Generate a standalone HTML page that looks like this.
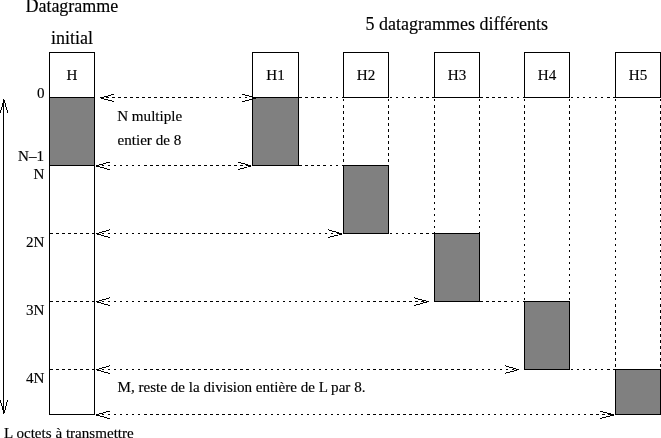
<!DOCTYPE html><html><head><meta charset="utf-8"><title>Fragmentation</title><style>html,body{margin:0;padding:0;background:#fff}svg{display:block}text{font-family:"Liberation Serif",serif;fill:#000;stroke:#000;stroke-width:.15px}.s{font-size:15.1px}.b{font-size:18px}line,polyline,rect,path{shape-rendering:crispEdges}path{stroke:#000;fill:none}</style></head><body>
<svg width="661" height="438" viewBox="0 0 661 438">
<rect width="661" height="438" fill="#fff"/>
<path d="M111 94.5H114M108 95.5H111M104 96.5H108M100 97.5H104M101 98.5H104M104 99.5H108M108 100.5H112M112 101.5H114M242 94.5H245M245 95.5H249M249 96.5H252M249 99.5H252M245 100.5H249M242 101.5H245"/>
<path d="M106 97.5H109M112 97.5H115M118 97.5H121M124 97.5H127M130 97.5H133M136 97.5H139M142 97.5H145M148 97.5H151M154 97.5H157M160 97.5H163M166 97.5H169M172 97.5H175M178 97.5H181M184 97.5H187M190 97.5H193M196 97.5H199M203 97.5H205M209 97.5H211M215 97.5H217M221 97.5H223M227 97.5H229M233 97.5H235M239 97.5H241M245 97.5H247"/>
<path d="M106 162.5H110M103 163.5H106M99 164.5H103M96 165.5H99M96 166.5H100M100 167.5H104M104 168.5H107M107 169.5H110M238 162.5H241M241 163.5H245M245 164.5H248M247 165.5H251M248 166.5H251M244 167.5H247M240 168.5H244M238 169.5H240"/>
<path d="M102 165.5H104M108 165.5H110M114 165.5H116M120 165.5H122M126 165.5H128M132 165.5H134M138 165.5H140M144 165.5H147M150 165.5H153M156 165.5H159M162 165.5H165M168 165.5H171M174 165.5H177M180 165.5H183M186 165.5H189M192 165.5H195M198 165.5H201M204 165.5H207M210 165.5H213M216 165.5H219M222 165.5H225M228 165.5H231M234 165.5H237M240 165.5H243M246 165.5H247"/>
<path d="M109 229.5H110M106 230.5H109M102 231.5H106M99 232.5H102M96 233.5H99M97 234.5H101M101 235.5H104M104 236.5H108M108 237.5H110M328 229.5H329M329 230.5H332M332 231.5H336M336 232.5H339M338 233.5H342M339 234.5H342M334 235.5H338M330 236.5H334M328 237.5H330"/>
<path d="M102 233.5H104M108 233.5H110M114 233.5H116M120 233.5H122M126 233.5H128M132 233.5H134M138 233.5H140M144 233.5H147M150 233.5H153M156 233.5H159M162 233.5H165M168 233.5H171M174 233.5H177M180 233.5H183M186 233.5H189M192 233.5H195M198 233.5H201M204 233.5H207M210 233.5H213M216 233.5H219M222 233.5H225M228 233.5H231M234 233.5H237M240 233.5H243M246 233.5H249M253 233.5H255M259 233.5H261M265 233.5H267M271 233.5H273M277 233.5H279M283 233.5H285M289 233.5H291M295 233.5H297M301 233.5H303M307 233.5H309M313 233.5H315M319 233.5H321M325 233.5H327M331 233.5H333M337 233.5H338"/>
<path d="M109 297.5H110M106 298.5H109M102 299.5H106M99 300.5H102M96 301.5H99M97 302.5H101M101 303.5H104M104 304.5H108M108 305.5H110M414 297.5H415M415 298.5H418M418 299.5H422M422 300.5H426M426 301.5H429M423 302.5H427M420 303.5H423M416 304.5H420M414 305.5H416"/>
<path d="M102 301.5H104M108 301.5H110M114 301.5H116M120 301.5H122M126 301.5H128M132 301.5H134M138 301.5H140M144 301.5H147M150 301.5H153M156 301.5H159M162 301.5H165M168 301.5H171M174 301.5H177M180 301.5H183M186 301.5H189M192 301.5H195M198 301.5H201M204 301.5H207M210 301.5H213M216 301.5H219M222 301.5H225M228 301.5H231M234 301.5H237M240 301.5H243M246 301.5H249M253 301.5H255M259 301.5H261M265 301.5H267M271 301.5H273M277 301.5H279M283 301.5H285M289 301.5H291M295 301.5H297M301 301.5H303M307 301.5H309M313 301.5H315M319 301.5H321M325 301.5H327M331 301.5H333M337 301.5H339M343 301.5H345M349 301.5H351M355 301.5H357M361 301.5H363M367 301.5H370M373 301.5H376M379 301.5H382M385 301.5H388M391 301.5H394M397 301.5H400M403 301.5H406M409 301.5H412M415 301.5H418M421 301.5H424"/>
<path d="M109 365.5H110M106 366.5H109M102 367.5H106M99 368.5H102M96 369.5H99M97 370.5H101M101 371.5H104M104 372.5H108M108 373.5H110M505 365.5H506M506 366.5H509M509 367.5H513M513 368.5H516M516 369.5H519M514 370.5H517M510 371.5H514M506 372.5H510M505 373.5H506"/>
<path d="M102 369.5H104M108 369.5H110M114 369.5H116M120 369.5H122M126 369.5H128M132 369.5H134M138 369.5H140M144 369.5H147M150 369.5H153M156 369.5H159M162 369.5H165M168 369.5H171M174 369.5H177M180 369.5H183M186 369.5H189M192 369.5H195M198 369.5H201M204 369.5H207M210 369.5H213M216 369.5H219M222 369.5H225M228 369.5H231M234 369.5H237M240 369.5H243M246 369.5H249M253 369.5H255M259 369.5H261M265 369.5H267M271 369.5H273M277 369.5H279M283 369.5H285M289 369.5H291M295 369.5H297M301 369.5H303M307 369.5H309M313 369.5H315M319 369.5H321M325 369.5H327M331 369.5H333M337 369.5H339M343 369.5H345M349 369.5H351M355 369.5H357M361 369.5H363M367 369.5H370M373 369.5H376M379 369.5H382M385 369.5H388M391 369.5H394M397 369.5H400M403 369.5H406M409 369.5H412M415 369.5H418M421 369.5H424M427 369.5H430M433 369.5H436M439 369.5H442M445 369.5H448M451 369.5H454M457 369.5H460M463 369.5H466M469 369.5H472M476 369.5H478M482 369.5H484M488 369.5H490M494 369.5H496M500 369.5H502M506 369.5H508M512 369.5H514"/>
<path d="M106 411.5H110M103 412.5H106M99 413.5H103M96 414.5H99M96 415.5H100M100 416.5H104M104 417.5H107M107 418.5H110M600 411.5H603M603 412.5H607M607 413.5H611M609 414.5H614M610 415.5H614M606 416.5H610M602 417.5H606M600 418.5H602"/>
<path d="M102 414.5H104M108 414.5H110M114 414.5H116M120 414.5H122M126 414.5H128M132 414.5H134M138 414.5H140M144 414.5H147M150 414.5H153M156 414.5H159M162 414.5H165M168 414.5H171M174 414.5H177M180 414.5H183M186 414.5H189M192 414.5H195M198 414.5H201M204 414.5H207M210 414.5H213M216 414.5H219M222 414.5H225M228 414.5H231M234 414.5H237M240 414.5H243M246 414.5H249M253 414.5H255M259 414.5H261M265 414.5H267M271 414.5H273M277 414.5H279M283 414.5H285M289 414.5H291M295 414.5H297M301 414.5H303M307 414.5H309M313 414.5H315M319 414.5H321M325 414.5H327M331 414.5H333M337 414.5H339M343 414.5H345M349 414.5H351M355 414.5H357M361 414.5H363M367 414.5H370M373 414.5H376M379 414.5H382M385 414.5H388M391 414.5H394M397 414.5H400M403 414.5H406M409 414.5H412M415 414.5H418M421 414.5H424M427 414.5H430M433 414.5H436M439 414.5H442M445 414.5H448M451 414.5H454M457 414.5H460M463 414.5H466M469 414.5H472M476 414.5H478M482 414.5H484M488 414.5H490M494 414.5H496M500 414.5H502M506 414.5H508M512 414.5H514M518 414.5H520M524 414.5H526M530 414.5H532M536 414.5H538M542 414.5H544M548 414.5H550M554 414.5H556M560 414.5H562M566 414.5H568M572 414.5H574M578 414.5H580M584 414.5H586M590 414.5H593M596 414.5H599M602 414.5H605M608 414.5H610"/>
<rect x="49.5" y="97.5" width="45" height="68" fill="#808080" stroke="none"/>
<rect x="49.5" y="52.5" width="45" height="362" fill="none" stroke="#000"/>
<line x1="49" y1="97.5" x2="94" y2="97.5" stroke="#000"/>
<line x1="49" y1="165.5" x2="94" y2="165.5" stroke="#000"/>
<path d="M50 233.5H53M56 233.5H59M62 233.5H65M68 233.5H71M74 233.5H77M80 233.5H83M86 233.5H89M92 233.5H94"/>
<path d="M50 301.5H53M56 301.5H59M62 301.5H65M68 301.5H71M74 301.5H77M80 301.5H83M86 301.5H89M92 301.5H94"/>
<path d="M50 369.5H53M56 369.5H59M62 369.5H65M68 369.5H71M74 369.5H77M80 369.5H83M86 369.5H89M92 369.5H94"/>
<rect x="252.5" y="52.5" width="46" height="45" fill="#fff" stroke="#000"/>
<rect x="252.5" y="97.5" width="46" height="68" fill="#808080" stroke="#000"/>
<rect x="343.5" y="52.5" width="45" height="45" fill="#fff" stroke="#000"/>
<rect x="343.5" y="165.5" width="45" height="68" fill="#808080" stroke="#000"/>
<path d="M343.5 99V101M343.5 105V108M343.5 111V114M343.5 117V120M343.5 123V126M343.5 129V132M343.5 135V138M343.5 141V144M343.5 147V150M343.5 153V156M343.5 159V162"/>
<path d="M388.5 99V101M388.5 105V108M388.5 111V114M388.5 117V120M388.5 123V126M388.5 129V132M388.5 135V138M388.5 141V144M388.5 147V150M388.5 153V156M388.5 159V162"/>
<rect x="434.5" y="52.5" width="45" height="45" fill="#fff" stroke="#000"/>
<rect x="434.5" y="233.5" width="45" height="68" fill="#808080" stroke="#000"/>
<path d="M434.5 99V101M434.5 105V108M434.5 111V114M434.5 117V120M434.5 123V126M434.5 129V132M434.5 135V138M434.5 141V144M434.5 147V150M434.5 153V156M434.5 159V162M434.5 165V168M434.5 171V174M434.5 177V180M434.5 183V186M434.5 189V192M434.5 195V198M434.5 202V204M434.5 208V210M434.5 214V216M434.5 220V222M434.5 226V228M434.5 232V233"/>
<path d="M479.5 99V101M479.5 105V108M479.5 111V114M479.5 117V120M479.5 123V126M479.5 129V132M479.5 135V138M479.5 141V144M479.5 147V150M479.5 153V156M479.5 159V162M479.5 165V168M479.5 171V174M479.5 177V180M479.5 183V186M479.5 189V192M479.5 195V198M479.5 202V204M479.5 208V210M479.5 214V216M479.5 220V222M479.5 226V228M479.5 232V233"/>
<rect x="524.5" y="52.5" width="45" height="45" fill="#fff" stroke="#000"/>
<rect x="524.5" y="301.5" width="45" height="68" fill="#808080" stroke="#000"/>
<path d="M524.5 99V101M524.5 105V108M524.5 111V114M524.5 117V120M524.5 123V126M524.5 129V132M524.5 135V138M524.5 141V144M524.5 147V150M524.5 153V156M524.5 159V162M524.5 165V168M524.5 171V174M524.5 177V180M524.5 183V186M524.5 189V192M524.5 195V198M524.5 202V204M524.5 208V210M524.5 214V216M524.5 220V222M524.5 226V228M524.5 232V234M524.5 238V240M524.5 244V246M524.5 250V252M524.5 256V258M524.5 262V264M524.5 268V270M524.5 274V276M524.5 280V282M524.5 286V288M524.5 292V294M524.5 298V300"/>
<path d="M569.5 99V101M569.5 105V108M569.5 111V114M569.5 117V120M569.5 123V126M569.5 129V132M569.5 135V138M569.5 141V144M569.5 147V150M569.5 153V156M569.5 159V162M569.5 165V168M569.5 171V174M569.5 177V180M569.5 183V186M569.5 189V192M569.5 195V198M569.5 202V204M569.5 208V210M569.5 214V216M569.5 220V222M569.5 226V228M569.5 232V234M569.5 238V240M569.5 244V246M569.5 250V252M569.5 256V258M569.5 262V264M569.5 268V270M569.5 274V276M569.5 280V282M569.5 286V288M569.5 292V294M569.5 298V300"/>
<rect x="615.5" y="52.5" width="45" height="45" fill="#fff" stroke="#000"/>
<rect x="615.5" y="369.5" width="45" height="45" fill="#808080" stroke="#000"/>
<path d="M615.5 99V101M615.5 105V108M615.5 111V114M615.5 117V120M615.5 123V126M615.5 129V132M615.5 135V138M615.5 141V144M615.5 147V150M615.5 153V156M615.5 159V162M615.5 165V168M615.5 171V174M615.5 177V180M615.5 183V186M615.5 189V192M615.5 195V198M615.5 202V204M615.5 208V210M615.5 214V216M615.5 220V222M615.5 226V228M615.5 232V234M615.5 238V240M615.5 244V246M615.5 250V252M615.5 256V258M615.5 262V264M615.5 268V270M615.5 274V276M615.5 280V282M615.5 286V288M615.5 292V294M615.5 298V300M615.5 304V307M615.5 310V313M615.5 316V319M615.5 322V325M615.5 328V331M615.5 334V337M615.5 340V343M615.5 346V349M615.5 352V355M615.5 358V361M615.5 364V367"/>
<path d="M660.5 99V101M660.5 105V108M660.5 111V114M660.5 117V120M660.5 123V126M660.5 129V132M660.5 135V138M660.5 141V144M660.5 147V150M660.5 153V156M660.5 159V162M660.5 165V168M660.5 171V174M660.5 177V180M660.5 183V186M660.5 189V192M660.5 195V198M660.5 202V204M660.5 208V210M660.5 214V216M660.5 220V222M660.5 226V228M660.5 232V234M660.5 238V240M660.5 244V246M660.5 250V252M660.5 256V258M660.5 262V264M660.5 268V270M660.5 274V276M660.5 280V282M660.5 286V288M660.5 292V294M660.5 298V300M660.5 304V307M660.5 310V313M660.5 316V319M660.5 322V325M660.5 328V331M660.5 334V337M660.5 340V343M660.5 346V349M660.5 352V355M660.5 358V361M660.5 364V367"/>
<path d="M299 97.5H302M305 97.5H308M311 97.5H314M317 97.5H320M323 97.5H326M330 97.5H332M336 97.5H338M342 97.5H343"/>
<path d="M299 165.5H302M305 165.5H308M311 165.5H314M317 165.5H320M323 165.5H326M330 165.5H332M336 165.5H338M342 165.5H343"/>
<path d="M390 97.5H392M396 97.5H398M402 97.5H404M408 97.5H410M414 97.5H416M420 97.5H423M426 97.5H429M432 97.5H434"/>
<path d="M390 233.5H392M396 233.5H398M402 233.5H404M408 233.5H410M414 233.5H416M420 233.5H423M426 233.5H429M432 233.5H434"/>
<path d="M480 97.5H483M486 97.5H489M492 97.5H495M498 97.5H501M504 97.5H507M511 97.5H513M517 97.5H519M523 97.5H524"/>
<path d="M480 301.5H483M486 301.5H489M492 301.5H495M498 301.5H501M504 301.5H507M511 301.5H513M517 301.5H519M523 301.5H524"/>
<path d="M571 97.5H573M577 97.5H579M583 97.5H585M589 97.5H591M595 97.5H597M601 97.5H603M607 97.5H610M613 97.5H615"/>
<path d="M571 369.5H573M577 369.5H579M583 369.5H585M589 369.5H591M595 369.5H597M601 369.5H603M607 369.5H610M613 369.5H615"/>
<path d="M252 98.5H256"/>
<path d="M3.5 99V414M4.5 100V103M2.5 103V107M1.5 107V110M0.5 110V113M5.5 103V107M6.5 107V110M7.5 110V113M4.5 410V413M2.5 406V410M1.5 403V406M0.5 400V403M5.5 406V410M6.5 402V406M7.5 400V402"/>
<text class="b" x="25.4" y="12">Datagramme</text>
<text class="b" x="51" y="44">initial</text>
<text class="b" x="365.5" y="29.5">5 datagrammes différents</text>
<text class="s" x="72.0" y="80" text-anchor="middle">H</text>
<text class="s" x="275.5" y="80" text-anchor="middle">H1</text>
<text class="s" x="366.0" y="80" text-anchor="middle">H2</text>
<text class="s" x="457.0" y="80" text-anchor="middle">H3</text>
<text class="s" x="547.0" y="80" text-anchor="middle">H4</text>
<text class="s" x="638.0" y="80" text-anchor="middle">H5</text>
<text class="s" x="37" y="98">0</text>
<text class="s" x="18" y="160.5">N–1</text>
<text class="s" x="33.5" y="179">N</text>
<text class="s" x="26" y="247">2N</text>
<text class="s" x="26" y="315">3N</text>
<text class="s" x="26" y="383">4N</text>
<text class="s" x="117.2" y="121">N multiple</text>
<text class="s" x="117.5" y="145">entier de 8</text>
<text class="s" x="117.5" y="391.8">M, reste de la division entière de L par 8.</text>
<text class="s" x="4" y="437.8">L octets à transmettre</text>
</svg></body></html>
